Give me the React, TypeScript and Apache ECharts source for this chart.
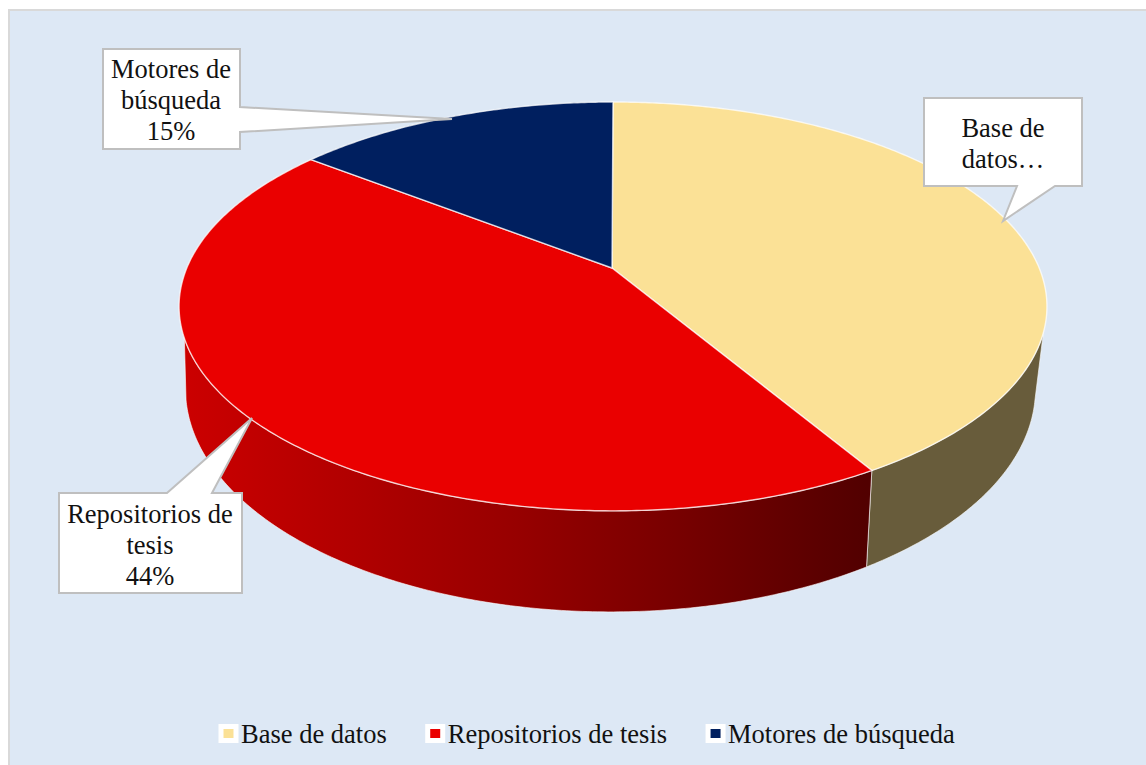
import React, { useEffect, useRef } from "react";
import * as echarts from "echarts";

const categories = ["Base de datos", "Repositorios de tesis", "Motores de búsqueda"];
const shares = [41.5, 44, 14.5];
const calloutTexts = ["Base de\ndatos…", "Repositorios de\ntesis\n44%", "Motores de\nbúsqueda\n15%"];

const topColors = ["#FBE196", "#EA0000", "#001F5F"];
const FONT = '"Liberation Serif", "Times New Roman", serif';
const FONT_SIZE = 26.5;

const TAU = Math.PI * 2;
const DEG = Math.PI / 180;
const total = shares.reduce((a, b) => a + b, 0);
const angleAt = (i: number) => (shares.slice(0, i).reduce((a, b) => a + b, 0) / total) * TAU;

// Perspective projection of the pie's top and bottom discs
const topDisc = { x0: 613, y0: 268, A: 426.2, B: 197.2, k: 0.188 };
const baseDisc = { x0: 610.5, y0: 344.4, A: 416.4, B: 214, k: 0.2 };
// Where the straight silhouette of the side wall leaves each disc
const topTangent = [108 * DEG, 250.5 * DEG];
const baseTangent = [104.3 * DEG, 255.7 * DEG];

function project(d: typeof topDisc, t: number): number[] {
  const u = Math.sin(t);
  const v = -Math.cos(t);
  const w = 1 - d.k * v;
  return [d.x0 + (d.A * u) / w, d.y0 + (d.B * v) / w];
}

function arc(d: typeof topDisc, from: number, to: number): number[][] {
  const n = Math.max(2, Math.ceil(Math.abs(to - from) / 0.01));
  const pts: number[][] = [];
  for (let i = 0; i <= n; i++) pts.push(project(d, from + ((to - from) * i) / n));
  return pts;
}

const wallFills: any[] = [
  "#685C3B",
  new echarts.graphic.LinearGradient(
    180, 0, 866, 0,
    [
      { offset: 0, color: "#CC0000" },
      { offset: 0.5, color: "#960000" },
      { offset: 1, color: "#520000" },
    ],
    true
  ),
];

function topSeries(i: number) {
  return {
    type: "custom",
    name: categories[i],
    coordinateSystem: "none",
    silent: true,
    z: 3,
    itemStyle: { color: topColors[i] },
    data: [[shares[i]]],
    renderItem: (_p: any, api: any) => {
      const from = angleAt(i);
      const to = from + (api.value(0) / total) * TAU;
      return {
        type: "polygon",
        shape: { points: [[612, topDisc.y0], ...arc(topDisc, from, to)] },
        style: { fill: topColors[i], stroke: "rgba(255,255,255,0.72)", lineWidth: 1.4 },
      };
    },
  };
}

function wallSeries(i: number) {
  return {
    type: "custom",
    name: "wall" + i,
    coordinateSystem: "none",
    silent: true,
    z: 2,
    data: [[shares[i]]],
    renderItem: (_p: any, api: any) => {
      const start = angleAt(i);
      const end = start + (api.value(0) / total) * TAU;
      const upper = arc(topDisc, Math.max(start, topTangent[0]), Math.min(end, topTangent[1]));
      const lower = arc(baseDisc, Math.min(end, baseTangent[1]), Math.max(start, baseTangent[0]));
      return {
        type: "polygon",
        shape: { points: [...upper, ...lower] },
        style: { fill: wallFills[i], stroke: "rgba(255,255,255,0.6)", lineWidth: 1 },
      };
    },
  };
}

function callout(points: number[][], text: string, cx: number, cy: number) {
  return [
    {
      type: "polygon",
      z: 20,
      silent: true,
      shape: { points },
      style: { fill: "#FFFFFF", stroke: "#BFBFBF", lineWidth: 2 },
    },
    {
      type: "text",
      z: 21,
      silent: true,
      x: cx,
      y: cy,
      style: {
        text,
        fill: "#111111",
        font: `${FONT_SIZE}px ${FONT}`,
        lineHeight: 31,
        align: "center",
        verticalAlign: "middle",
      },
    },
  ];
}

export default function App() {
  const ref = useRef<HTMLDivElement>(null);
  useEffect(() => {
    document.body.style.margin = "0";
    const chart = echarts.init(ref.current!, undefined, { renderer: "svg" });
    chart.setOption({
      animation: false,
      backgroundColor: "#FFFFFF",
      legend: {
        data: categories,
        left: 218.5,
        top: 720,
        padding: 0,
        icon: "rect",
        itemWidth: 15,
        itemHeight: 14,
        itemGap: 38.5,
        selectedMode: false,
        itemStyle: { borderColor: "#FFFFFF", borderWidth: 5 },
        textStyle: { fontFamily: FONT, fontSize: FONT_SIZE, color: "#111111" },
      },
      graphic: [
        {
          type: "rect",
          z: -10,
          silent: true,
          shape: { x: 9, y: 10, width: 1150, height: 770 },
          style: { fill: "#DDE8F5", stroke: "#D9D9D9", lineWidth: 2 },
        },
        ...callout(
          [[924, 98], [1082, 98], [1082, 186], [1055, 186], [1003, 221], [1017, 186], [924, 186]],
          calloutTexts[0], 1003, 143
        ),
        ...callout(
          [[59, 493], [167, 493], [252, 418], [212, 493], [242, 493], [242, 593], [59, 593]],
          calloutTexts[1], 150, 545
        ),
        ...callout(
          [[103, 49], [240, 49], [240, 107], [452, 119], [240, 132], [240, 149], [103, 149]],
          calloutTexts[2], 171, 100
        ),
      ],
      series: [wallSeries(0), wallSeries(1), topSeries(0), topSeries(1), topSeries(2)],
    });
    return () => chart.dispose();
  }, []);
  return <div ref={ref} style={{ position: "absolute", left: 0, top: 0, width: 1146, height: 765, overflow: "hidden" }} />;
}
